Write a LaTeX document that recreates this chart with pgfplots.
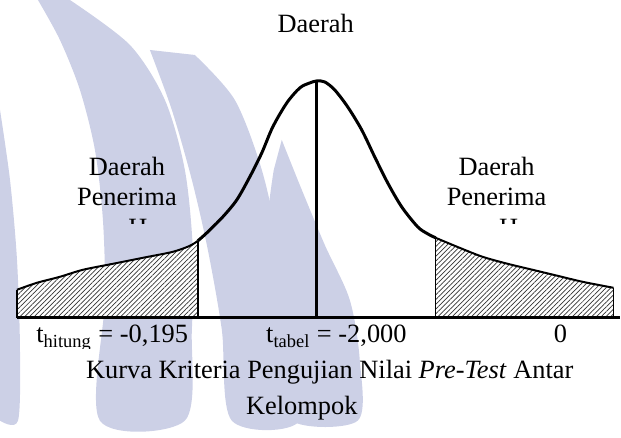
\documentclass[border=0pt]{standalone}
\usepackage{fontspec}
\setmainfont{Liberation Serif}
\usepackage{pgfplots}
\pgfplotsset{compat=1.18}
\usetikzlibrary{patterns.meta}
\definecolor{wm}{RGB}{204,208,230}
\begin{document}
\begin{tikzpicture}
\begin{axis}[
  width=310.5pt, height=210.5pt, scale only axis,
  xmin=0, xmax=621, ymin=0, ymax=421,
  hide axis, clip=false,
  font=\fontsize{13.2}{16}\selectfont,
]
% watermark (background)
\addplot[fill=wm, draw=none, smooth] coordinates {(0,311) (10,241) (17,161) (20,71) (18,0) (0,0)};
\addplot[fill=wm, draw=none, smooth] coordinates {(38,421) (60,381) (80,331) (95,271) (103,201) (105,121) (100,0) (185,0) (192,91) (193,171) (185,251) (165,321) (130,376) (70,421)};
\addplot[fill=wm, draw=none, smooth] coordinates {(150,371) (172,311) (192,241) (208,171) (222,91) (232,0) (300,0) (292,91) (280,171) (262,251) (235,321) (195,366)};
\addplot[fill=wm, draw=none, smooth] coordinates {(282,281) (300,236) (325,176) (350,121) (360,61) (358,0) (292,0) (280,61) (270,131) (268,201) (274,251)};

% hatched tails
\addplot[fill=white, draw=none] coordinates {(17,103) (17,131) (37,138) (60,144) (83,151) (113,157) (143,163) (173,169) (190,175) (198,180) (198,103)};
\addplot[pattern={Lines[angle=45,distance=1.7pt,line width=0.35pt]}, pattern color=black!80, draw=none] coordinates {(17,103) (17,131) (37,138) (60,144) (83,151) (113,157) (143,163) (173,169) (190,175) (198,180) (198,103)};
\addplot[fill=white, draw=none] coordinates {(436,103) (436,183) (460,173) (483,164) (508,157) (533,151) (558,145) (583,139) (614,133) (614,103)};
\addplot[pattern={Lines[angle=45,distance=1.7pt,line width=0.35pt]}, pattern color=black!80, draw=none] coordinates {(436,103) (436,183) (460,173) (483,164) (508,157) (533,151) (558,145) (583,139) (614,133) (614,103)};

% curve
\addplot[black, line width=1pt, smooth] coordinates {(17,131) (37,138) (60,144) (83,151) (113,157) (143,163) (173,169) (190,175) (198,180)};
\addplot[black, line width=1.5pt, smooth] coordinates {(198,180) (207,188) (223,204) (237,221) (250,244) (262,268) (273,294) (287,318) (300,333) (310,338) (317,340) (325,339) (335,331) (348,314) (362,291) (375,264) (388,238) (402,214) (418,194) (428,187) (436,183)};
\addplot[black, line width=1pt, smooth] coordinates {(436,183) (460,173) (483,164) (508,157) (533,151) (558,145) (583,139) (614,133)};

% vertical lines
\addplot[black, line width=0.8pt] coordinates {(17,103) (17,131)};
\addplot[black, line width=0.8pt] coordinates {(198,103) (198,180)};
\addplot[black, line width=0.8pt] coordinates {(436,103) (436,183)};
\addplot[black, line width=0.8pt] coordinates {(614,103) (614,133)};
\addplot[black, line width=1.6pt] coordinates {(317,103) (317,340)};
% baseline
\addplot[black, line width=1.5pt] coordinates {(17,103) (620,103)};

% labels
\node[anchor=base] at (axis cs:316,388) {Daerah};
\node[anchor=base] at (axis cs:127,245) {Daerah};
\node[anchor=base] at (axis cs:127,215) {Penerima};
\node[anchor=base] at (axis cs:497,245) {Daerah};
\node[anchor=base] at (axis cs:497,215) {Penerima};
\begin{scope}
  \clip (axis cs:100,197) rectangle (axis cs:170,206);
  \node[anchor=base west, inner sep=0pt] at (axis cs:128,184) {H};
\end{scope}
\begin{scope}
  \clip (axis cs:480,197) rectangle (axis cs:540,206);
  \node[anchor=base west, inner sep=0pt] at (axis cs:499,184) {H};
\end{scope}
\begin{scope}
  \clip (axis cs:0,72) rectangle (axis cs:220,100);
  \node[anchor=base west, inner sep=0pt] at (axis cs:36,78) {t\textsubscript{hitung} = -0,195};
\end{scope}
\node[anchor=base west, inner sep=0pt] at (axis cs:266,78) {t\textsubscript{tabel} = -2,000};
\node[anchor=base] at (axis cs:561,78) {0};
\node[anchor=base] at (axis cs:330,42) {Kurva Kriteria Pengujian Nilai \textit{Pre-Test} Antar};
\node[anchor=base] at (axis cs:302,6) {Kelompok};
\end{axis}
\end{tikzpicture}
\end{document}
